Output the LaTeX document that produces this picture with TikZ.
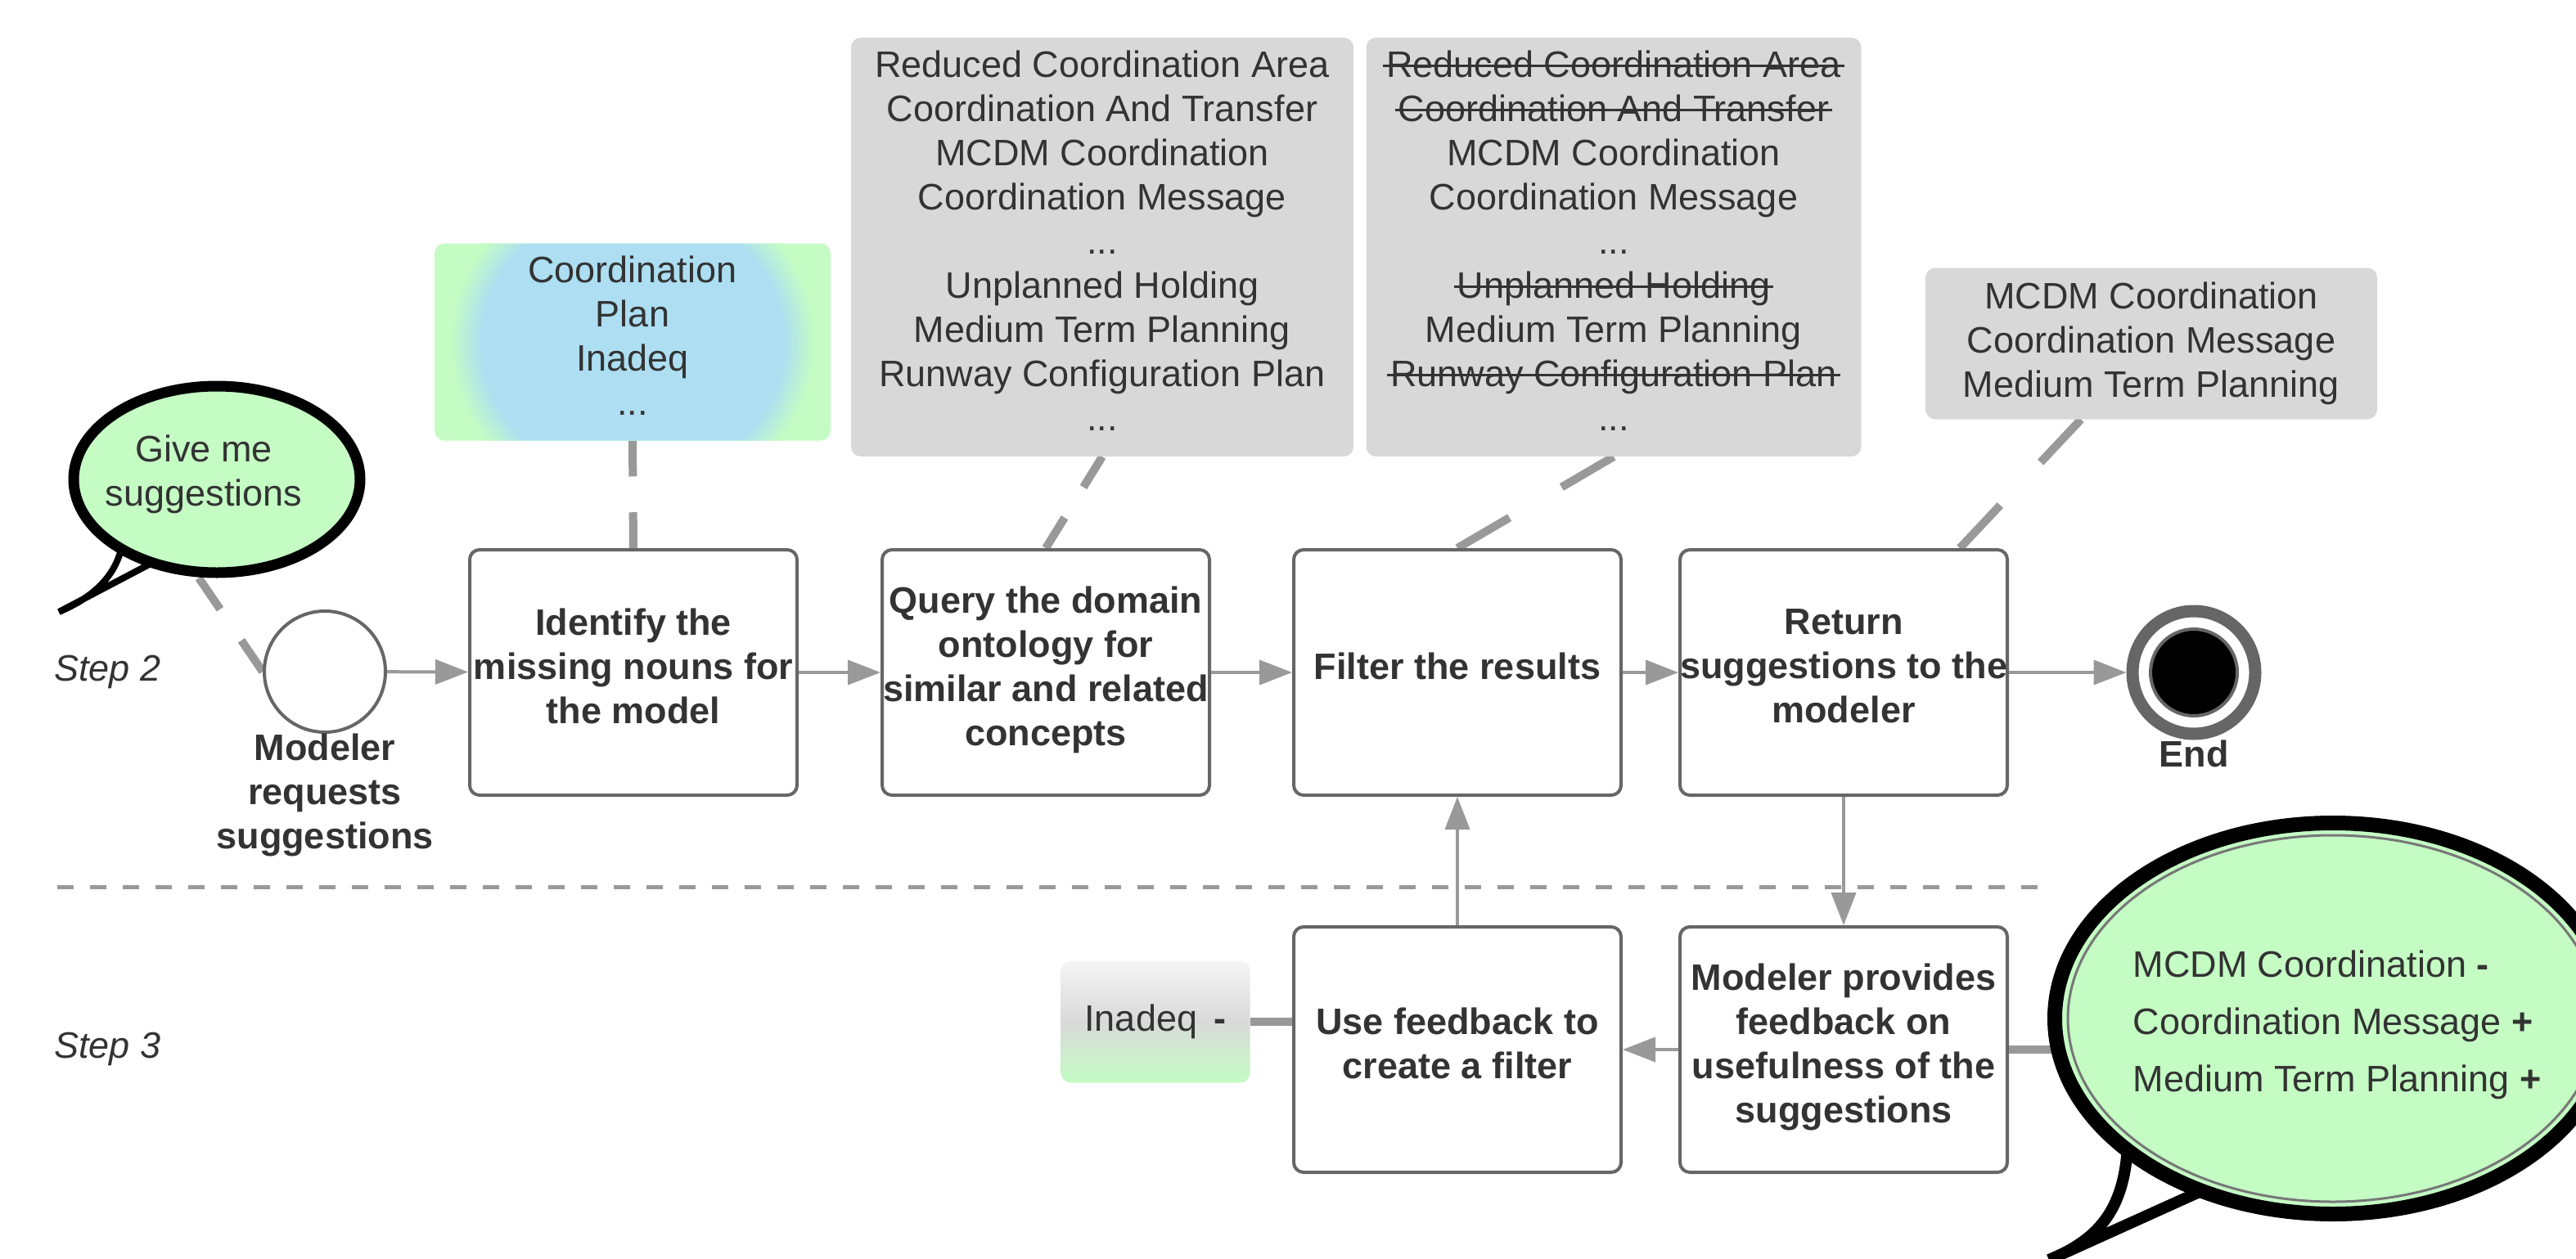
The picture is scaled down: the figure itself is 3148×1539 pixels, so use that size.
\documentclass[tikz,border=0pt]{standalone}
\usepackage{fontspec}
\setmainfont{Liberation Sans}
\usepackage{tikz}
\usetikzlibrary{positioning,arrows.meta,shapes.geometric,calc,backgrounds}
\usepackage{xcolor}
\definecolor{inkgray}{HTML}{333333}
\definecolor{edgegray}{HTML}{666666}
\definecolor{flowgray}{HTML}{999999}
\definecolor{notegray}{HTML}{D8D8D8}
\definecolor{cbgreen}{HTML}{C4FCC4}
\definecolor{planblue}{HTML}{ADDEF2}
\definecolor{fadetop}{HTML}{F5F5F5}
\definecolor{fademid}{HTML}{D9D9D9}
\definecolor{rimgray}{HTML}{777777}

\pgfdeclareradialshading{planglow}{\pgfpoint{0bp}{0bp}}{color(0bp)=(planblue); color(19bp)=(planblue); color(23bp)=(cbgreen); color(50bp)=(cbgreen)}
\pgfdeclareverticalshading{inadeqfade}{100bp}{color(0bp)=(cbgreen); color(25bp)=(cbgreen); color(50bp)=(fademid); color(75bp)=(fadetop); color(100bp)=(fadetop)}

\newcommand{\struck}[1]{{\setbox0=\hbox{#1}\rlap{\hspace{-4pt}\rule[0.28em]{\dimexpr\wd0+8pt\relax}{3.5pt}}\box0}}
\newcommand{\assocline}[2]{\draw[assoc] (#1) -- ($(#1)!1/3!(#2)$) ($(#1)!2/3!(#2)$) -- (#2);}

\begin{document}
\begin{tikzpicture}[x=1pt, y=-1pt,
    base/.style={font=\fontsize{45}{54}\selectfont, text=inkgray},
    lifted/.style={execute at end node={\rule[-15pt]{0pt}{0pt}}},
    task/.style={base, lifted, draw=edgegray, line width=4pt, fill=white, rounded corners=12pt, minimum width=400pt, minimum height=300pt, inner sep=0pt, align=center, font=\fontsize{45}{54}\selectfont\bfseries},
    note/.style={base, fill=notegray, rounded corners=12pt, inner sep=0pt, align=center},
    lbl/.style={base, inner sep=0pt, align=center, font=\fontsize{45}{54}\selectfont\bfseries},
    lane/.style={base, anchor=west, inner sep=0pt, font=\fontsize{45}{54}\selectfont\itshape},
    bubble/.style={ellipse, draw=black, fill=cbgreen, inner sep=0pt},
    flow/.style={draw=flowgray, line width=4pt, -{Triangle[length=40pt,width=30pt]}},
    assoc/.style={draw=flowgray, line width=10pt},
]
\useasboundingbox (0,0) rectangle (3148,1539);

% Lane labels
\node[lane] (step2) at (66,821) {Step 2};
\node[lane] (step3) at (66,1282) {Step 3};
\draw[draw=flowgray, line width=5pt, dash pattern=on 20pt off 20pt] (70,1084) -- (2496,1084);

% Row 1: start, tasks, end
\node[circle, draw=edgegray, line width=4pt, fill=white, minimum size=148pt, inner sep=0pt] (start) at (397,821) {};
\node[lbl, below=0pt of start] (startlbl) {Modeler\\requests\\suggestions};

\node[task] (t1) at (774,822) {Identify the\\missing nouns for\\the model};
\node[task] (t2) at (1278,822) {Query the domain\\ontology for\\similar and related\\concepts};
\node[task] (t3) at (1781,822) {Filter the results};
\node[task] (t4) at (2253,822) {Return\\suggestions to the\\modeler};

\node[circle, draw=edgegray, line width=15pt, fill=white, minimum size=150pt, inner sep=0pt] (end) at (2681,822) {};
\node[circle, draw=edgegray, line width=4pt, fill=black, minimum size=106pt, inner sep=0pt] (endcore) at (end.center) {};
\node[lbl, below=0pt of end] (endlbl) {End};

% Row 2: feedback tasks
\node[task] (t5) at (1781,1283) {Use feedback to\\create a filter};
\node[task] (t6) at (2253,1283) {Modeler provides\\feedback on\\usefulness of the\\suggestions};
\node[base, shade, shading=inadeqfade, rounded corners=12pt, minimum width=231pt, minimum height=149pt, inner sep=0pt] (inadeq) at (1412,1249) {Inadeq\hspace{8pt} \textbf{-}};

% Annotations
\node[base, lifted, fill=cbgreen, rounded corners=12pt, minimum width=484pt, minimum height=241pt, inner sep=0pt, align=center,
      path picture={\shade[shading=planglow] (path picture bounding box.center) circle (220);}] (boxA) at (773,418) {Coordination\\Plan\\Inadeq\\...};
\node[note, lifted, minimum width=614pt, minimum height=512pt] (boxB) at (1347,302) {Reduced Coordination Area\\Coordination And Transfer\\MCDM Coordination\\Coordination Message\\...\\Unplanned Holding\\Medium Term Planning\\Runway Configuration Plan\\...};
\node[note, lifted, minimum width=605pt, minimum height=512pt] (boxC) at (1972,302) {\struck{Reduced Coordination Area}\\\struck{Coordination And Transfer}\\MCDM Coordination\\Coordination Message\\...\\\struck{Unplanned Holding}\\Medium Term Planning\\\struck{Runway Configuration Plan}\\...};
\node[note, minimum width=552pt, minimum height=185pt] (boxD) at (2629,420) {MCDM Coordination\\Coordination Message\\Medium Term Planning};

% Speech bubbles
\draw[line width=8pt, line join=bevel, fill=white] (150,662) .. controls (142,712) and (102,735) .. (72,748) -- (186,688);
\node[bubble, line width=13pt, minimum width=350pt, minimum height=228pt] (bub1) at (265,586) {};
\node[base, align=center, inner sep=0pt] (bub1txt) at (249,580) {Give me\\suggestions};

\draw[line width=14pt, fill=white] (2600,1400) .. controls (2596,1478) and (2565,1515) .. (2504,1540) -- (2692,1455);
\node[bubble, line width=18pt, minimum width=680pt, minimum height=478pt] (bub2) at (2851,1245) {};
\draw[draw=rimgray, line width=3pt] (bub2.center) ellipse [x radius=324, y radius=224];
\node[base, align=left, inner sep=0pt, font=\fontsize{45}{70}\selectfont] (bub2txt) at (2856,1253) {MCDM Coordination \textbf{-}\\Coordination Message \textbf{+}\\Medium Term Planning \textbf{+}};

% Associations
\coordinate (dtop) at ([xshift=-86pt]boxD.south);
\coordinate (dbot) at ([xshift=142pt]t4.north);
\coordinate (btop) at ([xshift=-22pt]bub1.south);
\begin{pgfonlayer}{background}
\assocline{boxA.south}{t1.north}
\assocline{boxB.south}{t2.north}
\assocline{boxC.south}{t3.north}
\assocline{dtop}{dbot}
\assocline{btop}{start.west}
\draw[assoc] (inadeq.east) -- (inadeq.east -| t5.west);
\draw[assoc] (t6.east) -- (t6.east -| bub2.center);
\end{pgfonlayer}

% Arrows
\foreach \a/\b in {start/t1, t1/t2, t2/t3, t3/t4, t4/end, t4/t6, t6/t5, t5/t3}
    \draw[flow] (\a) -- (\b);

\end{tikzpicture}
\end{document}
